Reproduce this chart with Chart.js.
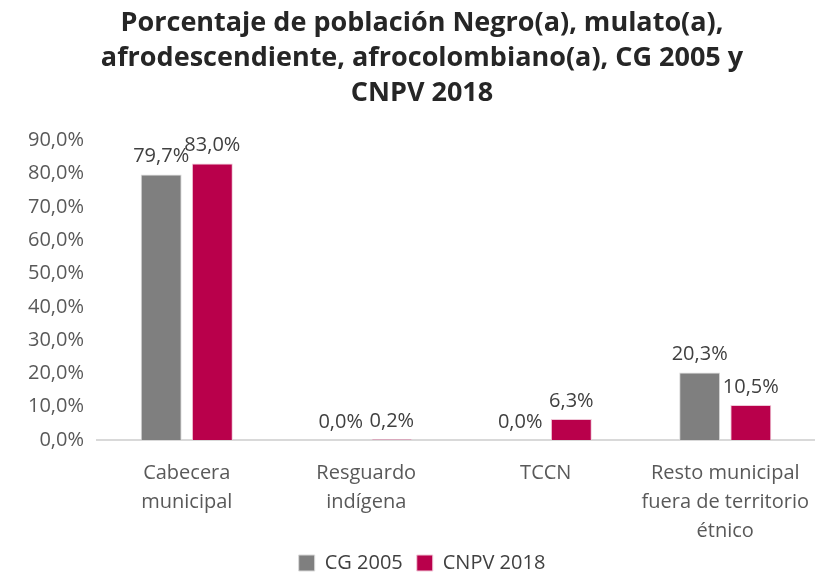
<!DOCTYPE html>
<html>
<head>
<meta charset="utf-8">
<script src="https://cdn.jsdelivr.net/npm/chart.js@4.4.0/dist/chart.umd.min.js"></script>
<style>
  html, body { margin: 0; padding: 0; background: #fff; }
  #wrap { width: 815px; height: 577px; }
</style>
</head>
<body>
<div id="wrap"><canvas id="chart" width="815" height="577"></canvas></div>
<script>
// Categories and series
const categories = [
    ['Cabecera', 'municipal'],
    ['Resguardo', 'indígena'],
    ['TCCN'],
    ['Resto municipal', 'fuera de territorio', 'étnico']
];
const cg2005 = [79.7, 0.0, 0.0, 20.3];
const cnpv2018 = [83.0, 0.2, 6.3, 10.5];
const titleLines = [
    'Porcentaje de población Negro(a), mulato(a),',
    'afrodescendiente, afrocolombiano(a), CG 2005 y',
    'CNPV 2018'
];

const fmt = v => v.toFixed(1).replace('.', ',') + '%';

// Value labels above each bar
const barLabels = {
    id: 'barLabels',
    afterDatasetsDraw(chart) {
        const ctx = chart.ctx;
        ctx.save();
        ctx.font = '20px "Open Sans"';
        ctx.fillStyle = '#404040';
        ctx.textAlign = 'center';
        ctx.textBaseline = 'bottom';
        chart.data.datasets.forEach((ds, i) => {
            chart.getDatasetMeta(i).data.forEach((bar, j) => {
                ctx.fillText(fmt(ds.data[j]), bar.x, bar.y - 8);
            });
        });
        ctx.restore();
    }
};

const ctx = document.getElementById('chart').getContext('2d');
const chart = new Chart(ctx, {
    type: 'bar',
    data: {
        labels: categories,
        datasets: [{
            label: 'CG 2005',
            data: cg2005,
            backgroundColor: '#7f7f7f',
            borderColor: '#d9d9d9',
            borderWidth: 1
        }, {
            label: 'CNPV 2018',
            data: cnpv2018,
            backgroundColor: '#b9004b',
            borderColor: '#f0c8d8',
            borderWidth: 1
        }]
    },
    options: {
        responsive: false,
        animation: false,
        layout: { padding: { left: 15, right: -14, top: 0, bottom: -6 } },
        datasets: {
            bar: { categoryPercentage: 0.57, barPercentage: 0.8 }
        },
        scales: {
            x: {
                grid: { display: false, drawTicks: false },
                border: { color: '#d9d9d9', width: 2 },
                ticks: {
                    color: '#595959',
                    font: { family: 'Open Sans', size: 20, lineHeight: 1.45 },
                    maxRotation: 0,
                    padding: 19
                },
                // let the last label run to the canvas edge, labels may reach into the legend band
                afterFit: scale => {
                    scale.paddingLeft = 0;
                    scale.paddingRight = -14;
                    scale.height = 99;
                }
            },
            y: {
                min: 0,
                max: 90,
                grid: { display: false, drawTicks: false },
                border: { display: false },
                ticks: {
                    stepSize: 10,
                    color: '#595959',
                    font: { family: 'Open Sans', size: 20 },
                    padding: 13,
                    callback: v => fmt(v)
                },
                afterFit: scale => {
                    scale.paddingRight = -14;
                }
            }
        },
        plugins: {
            title: {
                display: true,
                text: titleLines,
                color: '#262626',
                font: { family: 'Open Sans', size: 27, weight: 'bold', lineHeight: 1.3 },
                padding: { top: 6, bottom: 29 }
            },
            legend: {
                position: 'bottom',
                labels: {
                    color: '#404040',
                    font: { family: 'Open Sans', size: 20 },
                    boxWidth: 16,
                    boxHeight: 16,
                    padding: 14
                }
            },
            tooltip: { enabled: false }
        }
    },
    plugins: [barLabels]
});
</script>
</body>
</html>
